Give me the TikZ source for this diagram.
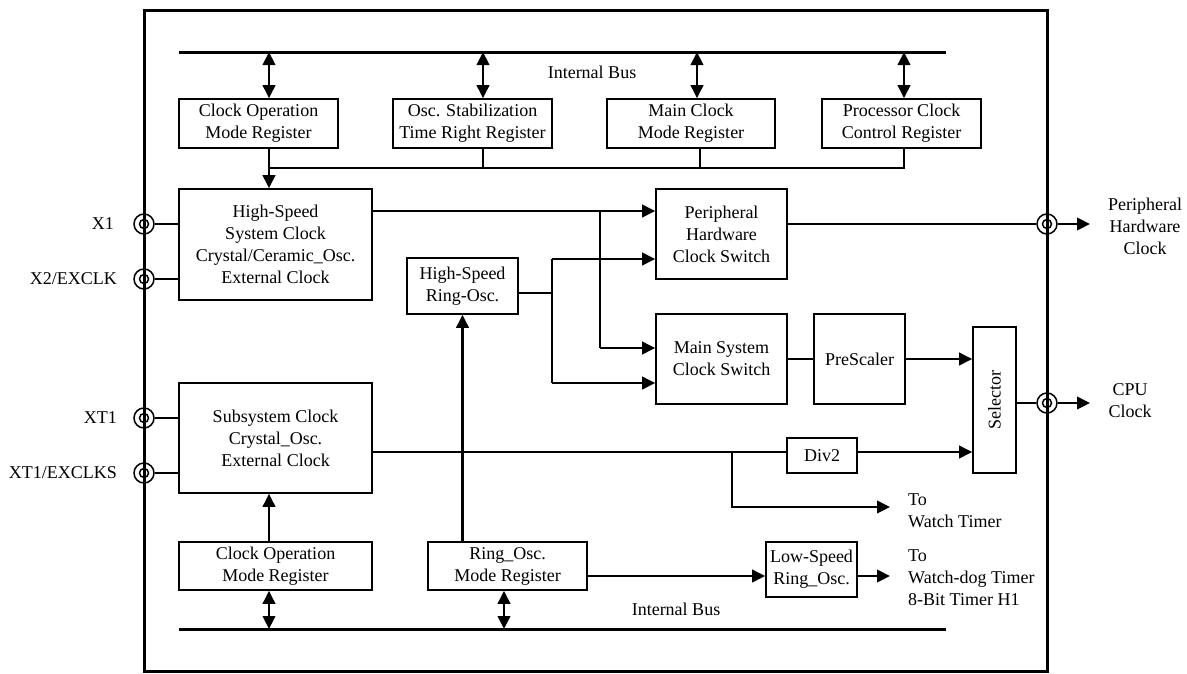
\documentclass[tikz,border=0pt]{standalone}
\usepackage{fontspec}
\setmainfont{Liberation Serif}
\usepackage{graphicx}
\usetikzlibrary{arrows.meta}
\begin{document}
\begin{tikzpicture}[x=1pt,y=-1pt,
  font=\fontsize{18}{22}\selectfont,
  box/.style={draw, line width=1.6pt, inner sep=0pt, align=center},
  conn/.style={line width=1.4pt},
  thk/.style={line width=2.2pt},
  arr/.style={line width=2.2pt, -{Triangle[length=13pt,width=12.5pt]}},
  darr/.style={line width=2.2pt, {Triangle[length=13pt,width=12.5pt]}-{Triangle[length=13pt,width=12.5pt]}},
  bus/.style={line width=3pt},
  pinout/.style={draw, circle, line width=1.5pt, minimum size=20pt, inner sep=0pt},
  lbl/.style={inner sep=0pt, align=center},
]
\useasboundingbox (0,0) rectangle (1187,673);

% chip frame
\node[draw, line width=3pt, minimum width=903pt, minimum height=661pt, inner sep=0pt] (chip) at (595.5,340.5) {};

% buses
\coordinate (tbL) at (179,52); \coordinate (tbR) at (946,52);
\coordinate (bbL) at (179,629); \coordinate (bbR) at (946,629);
\draw[bus] (tbL) -- (tbR);
\draw[bus] (bbL) -- (bbR);
\node[lbl] (ib1) at (592,72) {Internal Bus};
\node[lbl] (ib2) at (676,609) {Internal Bus};

% top registers
\node[box, minimum width=159pt, minimum height=49pt] (reg1) at (258.5,123.5) {Clock Operation\\Mode Register};
\node[box, minimum width=159pt, minimum height=49pt] (reg2) at (472.5,123.5) {Osc. Stabilization\\Time Right Register};
\node[box, minimum width=168pt, minimum height=49pt] (reg3) at (691,123.5) {Main Clock\\Mode Register};
\node[box, minimum width=159pt, minimum height=49pt] (reg4) at (901.5,123.5) {Processor Clock\\Control Register};

% main blocks
\node[box, minimum width=193pt, minimum height=111pt] (hsys) at (275.5,244.5) {High-Speed\\System Clock\\Crystal/Ceramic\_Osc.\\External Clock};
\node[box, minimum width=111pt, minimum height=56pt] (hring) at (462.5,286) {High-Speed\\Ring-Osc.};
\node[box, minimum width=131pt, minimum height=90pt] (periph) at (721.5,234) {Peripheral\\Hardware\\Clock Switch};
\node[box, minimum width=131pt, minimum height=90pt] (mainsw) at (721.5,359) {Main System\\Clock Switch};
\node[box, minimum width=91pt, minimum height=90pt] (presc) at (859.5,359) {PreScaler};
\node[box, minimum width=43pt, minimum height=146pt] (sel) at (994.5,400) {\rotatebox{90}{Selector}};
\node[box, minimum width=193pt, minimum height=110pt] (sub) at (275.5,438) {Subsystem Clock\\Crystal\_Osc.\\External Clock};
\node[box, minimum width=70pt, minimum height=35pt] (div2) at (822,455.5) {Div2};
\node[box, minimum width=193pt, minimum height=48pt] (creg) at (275.5,566) {Clock Operation\\Mode Register};
\node[box, minimum width=159pt, minimum height=48pt] (rreg) at (507.5,566) {Ring\_Osc.\\Mode Register};
\node[box, minimum width=91pt, minimum height=55pt] (lsring) at (811.5,569.5) {Low-Speed\\Ring\_Osc.};

% pins
\foreach \n/\px/\py in {pX1/144/224, pX2/144/279, pXT1/144/418, pXT2/144/473, pPH/1047/224, pCPU/1047/403}{
  \node[pinout] (\n) at (\px,\py) {};
  \draw[line width=1.5pt] (\n.center) circle[radius=4.5pt];
}
\node[lbl, anchor=east] (lX1) at (114,224) {X1};
\node[lbl, anchor=east] (lX2) at (117,279) {X2/EXCLK};
\node[lbl, anchor=east] (lXT1) at (117,418) {XT1};
\node[lbl, anchor=east] (lXT2) at (117,473) {XT1/EXCLKS};
\node[lbl] (lPH) at (1145,226) {Peripheral\\Hardware\\Clock};
\node[lbl] (lCPU) at (1130,401) {CPU\\Clock};
\node[lbl, anchor=west, align=left] (lWT) at (908,511) {To\\Watch Timer};
\node[lbl, anchor=west, align=left] (lWD) at (908,578) {To\\Watch-dog Timer\\8-Bit Timer H1};

% pin connections
\draw[conn] (pX1.east) -- (hsys.west |- pX1);
\draw[conn] (pX2.east) -- (hsys.west |- pX2);
\draw[conn] (pXT1.east) -- (sub.west |- pXT1);
\draw[conn] (pXT2.east) -- (sub.west |- pXT2);

% bus <-> registers
\draw[darr] ([xshift=10.5pt]reg1.north |- tbL) -- ([xshift=10.5pt]reg1.north);
\draw[darr] ([xshift=10.5pt]reg2.north |- tbL) -- ([xshift=10.5pt]reg2.north);
\draw[darr] ([xshift=6pt]reg3.north |- tbL) -- ([xshift=6pt]reg3.north);
\draw[darr] ([xshift=2.5pt]reg4.north |- tbL) -- ([xshift=2.5pt]reg4.north);
\draw[darr] ([xshift=-6.5pt]creg.south) -- ([xshift=-6.5pt]creg.south |- bbL);
\draw[darr] ([xshift=-3.5pt]rreg.south) -- ([xshift=-3.5pt]rreg.south |- bbL);

% register control line
\coordinate (cj) at (269,168);
\draw[conn] ([xshift=2.5pt]reg4.south) |- (cj);
\draw[conn] ([xshift=10.5pt]reg2.south) -- ([xshift=10.5pt]reg2.south |- cj);
\draw[conn] ([xshift=9pt]reg3.south) -- ([xshift=9pt]reg3.south |- cj);
\draw[arr] ([xshift=10.5pt]reg1.south) -- ([xshift=10.5pt]reg1.south |- hsys.north);

% high-speed system clock
\coordinate (jA) at (600,211);
\coordinate (jAb) at (600,348);
\draw[conn] (hsys.east |- jA) -- (jA);
\draw[arr] (jA) -- (periph.west |- jA);
\draw[conn] (jA) -- (jAb);
\draw[arr] (jAb) -- (mainsw.west |- jAb);

% high-speed ring osc
\coordinate (jB) at (552,293);
\coordinate (jBt) at (552,259);
\coordinate (jBb) at (552,383);
\draw[conn] (hring.east |- jB) -- (jB);
\draw[thk] (jBt) -- (jBb);
\draw[arr] (jBt) -- (periph.west |- jBt);
\draw[arr] (jBb) -- (mainsw.west |- jBb);
\draw[arr] (hring.south |- rreg.north) -- (hring.south);

% outputs
\coordinate (phout) at (1090,224);
\coordinate (cpuout) at (1090,403);
\draw[conn] (periph.east |- pPH) -- (pPH.west);
\draw[arr] (pPH.east) -- (phout);
\draw[conn] (mainsw.east) -- (presc.west);
\draw[arr] (presc.east) -- (sel.west |- presc.east);
\draw[conn] (sel.east |- pCPU) -- (pCPU.west);
\draw[arr] (pCPU.east) -- (cpuout);

% subsystem clock
\coordinate (jC) at (732,452);
\coordinate (wt) at (890,507);
\draw[conn] (sub.east |- jC) -- (div2.west |- jC);
\draw[arr] (div2.east |- jC) -- (sel.west |- jC);
\draw[arr] (jC) |- (wt);
\draw[arr] ([xshift=-6.5pt]creg.north) -- ([xshift=-6.5pt]sub.south);

% low-speed ring
\coordinate (wd) at (890,576);
\draw[arr] (rreg.east |- wd) -- (lsring.west |- wd);
\draw[arr] (lsring.east |- wd) -- (wd);
\end{tikzpicture}
\end{document}
